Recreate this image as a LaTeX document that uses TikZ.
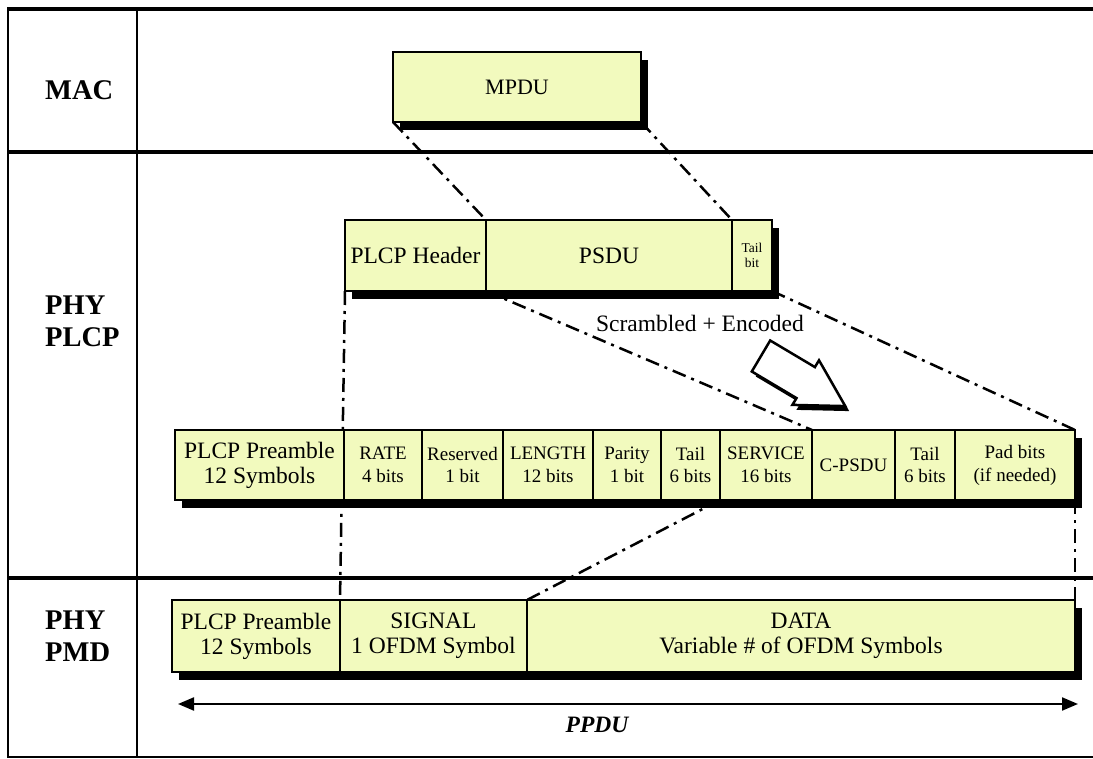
\documentclass[tikz,border=0pt]{standalone}
\usepackage{fontspec}
\setmainfont{Liberation Serif}
\usetikzlibrary{arrows.meta,shadows,backgrounds}

\definecolor{pduyellow}{RGB}{242,250,190}

\begin{document}
\begin{tikzpicture}[x=1pt,y=-1pt]
\tikzset{
  pdubox/.style={draw,line width=2pt,fill=pduyellow,anchor=north west,inner sep=0pt,outer sep=0pt,align=center,
    drop shadow={shadow xshift=7pt,shadow yshift=-8pt,opacity=1,fill=black}},
  bigtxt/.style={font=\fontsize{23.5}{25}\selectfont},
  smalltxt/.style={font=\fontsize{19}{23}\selectfont},
  layertxt/.style={anchor=west,align=left,inner sep=0pt,font=\fontsize{28.5}{32}\selectfont\bfseries},
  dashdot/.style={line width=2.5pt,dash pattern=on 14pt off 6pt on 3pt off 6pt},
  layerline/.style={line width=3.5pt}
}
\useasboundingbox (0,0) rectangle (1093,759);

% table frame
\draw[layerline] (8,9) -- (1093,9);
\draw[layerline] (8,152) -- (1093,152);
\draw[layerline] (8,578) -- (1093,578);
\draw[line width=2pt] (8,757) -- (1093,757);
\draw[line width=2.5pt] (8,7.5) -- (8,758);
\draw[line width=1.5pt] (137,9) -- (137,757);

% layer names
\node[layertxt] (lbl_mac) at (45,90) {MAC};
\node[layertxt] (lbl_plcp) at (45,321) {PHY\\PLCP};
\node[layertxt] (lbl_pmd) at (45,636) {PHY\\PMD};

% MAC
\node[pdubox,font=\fontsize{22}{24}\selectfont,minimum width=248pt,minimum height=70pt] (mpdu) at (393,52) {MPDU};

% PLCP header row
\node[pdubox,bigtxt,minimum width=141pt,minimum height=71pt] (hdr) at (345,220) {PLCP Header};
\node[pdubox,bigtxt,minimum width=246pt,minimum height=71pt] (psdu) at (hdr.north east) {PSDU};
\node[pdubox,font=\fontsize{13.5}{15}\selectfont,minimum width=40pt,minimum height=71pt] (tailbit) at (psdu.north east) {Tail\\bit};

\node[bigtxt] (scr) at (700,323) {Scrambled + Encoded};

% scrambled + encoded arrow
\fill[shift={(4,5)}] (770.2,340.5) -- (814.9,367.1) -- (819.0,360.3) -- (845.2,406.1)
  -- (792.4,404.9) -- (796.5,398.1) -- (751.8,371.5) -- cycle;
\draw[line width=2.5pt,fill=white] (770.2,340.5) -- (814.9,367.1) -- (819.0,360.3) -- (845.2,406.1)
  -- (792.4,404.9) -- (796.5,398.1) -- (751.8,371.5) -- cycle;

% coded fields
\node[pdubox,bigtxt,minimum width=169pt,minimum height=70pt] (f_pre) at (175,430) {PLCP Preamble\\12 Symbols};
\node[pdubox,smalltxt,minimum width=78pt,minimum height=70pt] (f_rate) at (f_pre.north east) {RATE\\4 bits};
\node[pdubox,smalltxt,minimum width=81pt,minimum height=70pt] (f_res) at (f_rate.north east) {Reserved\\1 bit};
\node[pdubox,smalltxt,minimum width=90pt,minimum height=70pt] (f_len) at (f_res.north east) {LENGTH\\12 bits};
\node[pdubox,smalltxt,minimum width=68pt,minimum height=70pt] (f_par) at (f_len.north east) {Parity\\1 bit};
\node[pdubox,smalltxt,minimum width=59pt,minimum height=70pt] (f_tail) at (f_par.north east) {Tail\\6 bits};
\node[pdubox,smalltxt,minimum width=92pt,minimum height=70pt] (f_serv) at (f_tail.north east) {SERVICE\\16 bits};
\node[pdubox,smalltxt,minimum width=83pt,minimum height=70pt] (f_cpsdu) at (f_serv.north east) {C-PSDU};
\node[pdubox,smalltxt,minimum width=60pt,minimum height=70pt] (f_tail2) at (f_cpsdu.north east) {Tail\\6 bits};
\node[pdubox,smalltxt,minimum width=120pt,minimum height=70pt] (f_pad) at (f_tail2.north east) {Pad bits\\(if needed)};

% PMD row
\node[pdubox,bigtxt,minimum width=168pt,minimum height=72pt] (pm_pre) at (172,600) {PLCP Preamble\\12 Symbols};
\node[pdubox,bigtxt,minimum width=187pt,minimum height=72pt] (pm_signal) at (pm_pre.north east) {SIGNAL\\1 OFDM Symbol};
\node[pdubox,bigtxt,minimum width=548pt,minimum height=72pt] (pm_data) at (pm_signal.north east) {DATA\\Variable \# of OFDM Symbols};

% PPDU span
\coordinate (ppdu_l) at (178,704);
\coordinate (ppdu_r) at (1078,704);
\draw[line width=2.2pt,{Triangle[length=16pt,width=13pt]}-{Triangle[length=16pt,width=13pt]}] (ppdu_l) -- (ppdu_r);
\node[font=\fontsize{23.5}{25}\selectfont\bfseries\itshape] (ppdu) at (597,725) {PPDU};

% mapping lines
\begin{scope}[on background layer]
\draw[dashdot] (mpdu.south west) -- (psdu.north west);
\draw[dashdot] (mpdu.south east) -- (psdu.north east);
\draw[dashdot] (hdr.south west) -- (pm_signal.north west);
\draw[dashdot] (psdu.south west) -- (f_cpsdu.north west);
\draw[dashdot] (tailbit.south east) -- (f_pad.north east);
\draw[dashdot] (f_tail.south east) -- (pm_signal.north east);
\draw[dashdot] (f_pad.south east) -- (pm_data.north east);
\end{scope}
\end{tikzpicture}
\end{document}
